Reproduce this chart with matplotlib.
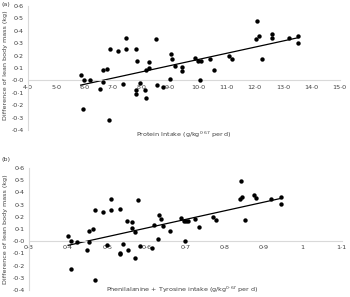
import numpy as np
import matplotlib
matplotlib.use("Agg")
import matplotlib.pyplot as plt
from matplotlib.ticker import FuncFormatter

# panel (a): protein intake vs change in lean body mass
protein = [5.86, 5.99, 6.18, 5.94, 6.56, 6.66, 6.79, 6.65, 6.88, 6.86,
           7.18, 7.35, 7.47, 7.47, 7.82, 7.85, 7.82, 7.82, 7.94, 8.14,
           8.18, 8.18, 8.26, 8.27, 8.51, 8.55, 8.76, 9.00, 9.04, 9.07,
           9.18, 9.44, 9.44, 9.91, 10.02, 10.12, 10.06, 10.43, 10.56, 11.09,
           11.19, 12.05, 12.14, 12.10, 12.25, 12.60, 12.63, 13.20, 13.55, 13.55]
lbm_a = [0.04, 0.00, 0.00, -0.23, -0.07, 0.08, 0.09, -0.01, 0.25, -0.32,
         0.24, -0.03, 0.34, 0.25, 0.25, 0.16, -0.08, -0.11, -0.02, -0.08,
         -0.14, 0.08, 0.15, 0.10, 0.33, -0.04, -0.05, 0.01, 0.21, 0.17,
         0.12, 0.11, 0.075, 0.18, 0.155, 0.16, 0.00, 0.17, 0.08, 0.20,
         0.17, 0.335, 0.36, 0.48, 0.17, 0.37, 0.34, 0.34, 0.36, 0.30]

# panel (b): phenylalanine + tyrosine intake
phetyr = [0.400, 0.408, 0.423, 0.407, 0.448, 0.454, 0.463, 0.454, 0.470, 0.469,
          0.489, 0.500, 0.509, 0.509, 0.533, 0.533, 0.533, 0.541, 0.551, 0.554,
          0.563, 0.563, 0.572, 0.572, 0.578, 0.583, 0.615, 0.620, 0.630, 0.633,
          0.637, 0.644, 0.662, 0.690, 0.697, 0.703, 0.707, 0.700, 0.725, 0.734,
          0.771, 0.778, 0.839, 0.845, 0.843, 0.852, 0.877, 0.880, 0.919, 0.944,
          0.944]
lbm_b = [0.04, 0.00, -0.005, -0.23, -0.07, 0.085, 0.096, -0.008, 0.255, -0.32,
         0.24, -0.033, 0.345, 0.255, 0.26, -0.096, -0.107, -0.02, 0.167, -0.074,
         0.159, 0.107, 0.077, -0.142, 0.337, -0.041, -0.052, 0.129, 0.014, 0.214,
         0.178, 0.123, 0.082, 0.186, 0.167, 0.167, 0.167, 0.003, 0.18, 0.112,
         0.20, 0.17, 0.345, 0.364, 0.49, 0.173, 0.378, 0.35, 0.345, 0.36,
         0.307]

ylabel = "Difference of lean body mass (kg)"
grey = "#404040"
fs = 4.6


def a_fmt(v, pos):
    return f"{v:.1f}".replace(".", "\u00b7")


def b_fmt(v, pos):
    s = f"{v:.1f}"
    if s == "1.0":
        s = "1"
    return s.replace(".", "\u00b7")


def panel(ax, x, y, xlim, xticks, xfmt):
    x = np.array(x)
    y = np.array(y)
    ax.scatter(x, y, s=10, color="black", zorder=3, linewidths=0)
    k, b = np.polyfit(x, y, 1)
    xs = np.array([x.min(), x.max()])
    ax.plot(xs, k * xs + b, color="black", lw=0.9, zorder=2)
    ax.set_xlim(*xlim)
    ax.set_ylim(-0.4, 0.6)
    ax.set_xticks(xticks)
    ax.set_yticks(np.arange(-0.4, 0.61, 0.1))
    ax.xaxis.set_major_formatter(FuncFormatter(xfmt))
    ax.yaxis.set_major_formatter(FuncFormatter(a_fmt))
    ax.spines["top"].set_visible(False)
    ax.spines["right"].set_visible(False)
    ax.spines["bottom"].set_position(("data", 0))
    ax.spines["bottom"].set_color("#d9d9d9")
    ax.spines["left"].set_color("#d9d9d9")
    ax.spines["bottom"].set_linewidth(0.8)
    ax.spines["left"].set_linewidth(0.8)
    ax.tick_params(length=0, labelsize=fs, colors=grey, pad=3)
    ax.set_facecolor("none")


fig = plt.figure(figsize=(3.5, 2.97), dpi=100)

ax1 = fig.add_axes([0.08, 0.562, 0.89, 0.418])
panel(ax1, protein, lbm_a, (4, 15), np.arange(4, 15.1, 1), a_fmt)
ax2 = fig.add_axes([0.083, 0.0236, 0.893, 0.411])
panel(ax2, phetyr, lbm_b, (0.3, 1.1), np.arange(0.3, 1.11, 0.1), b_fmt)

fig.text(0.003, 0.985, "(a)", fontsize=fs, color=grey, va="center")
fig.text(0.003, 0.462, "(b)", fontsize=fs, color=grey, va="center")
fig.text(0.015, 0.78, ylabel, rotation=90, fontsize=fs, color=grey, ha="center", va="center")
fig.text(0.015, 0.23, ylabel, rotation=90, fontsize=fs, color=grey, ha="center", va="center")
fig.text(0.525, 0.545, "Protein Intake (g/kg$^{0\u00b767}$ per d)", fontsize=fs, color=grey,
         ha="center", va="center")
fig.text(0.52, 0.024, "Phenilalanine + Tyrosine intake (g/kg$^{0\u00b767}$ per d)", fontsize=fs,
         color=grey, ha="center", va="center")

fig.savefig("out.png", dpi=100)
